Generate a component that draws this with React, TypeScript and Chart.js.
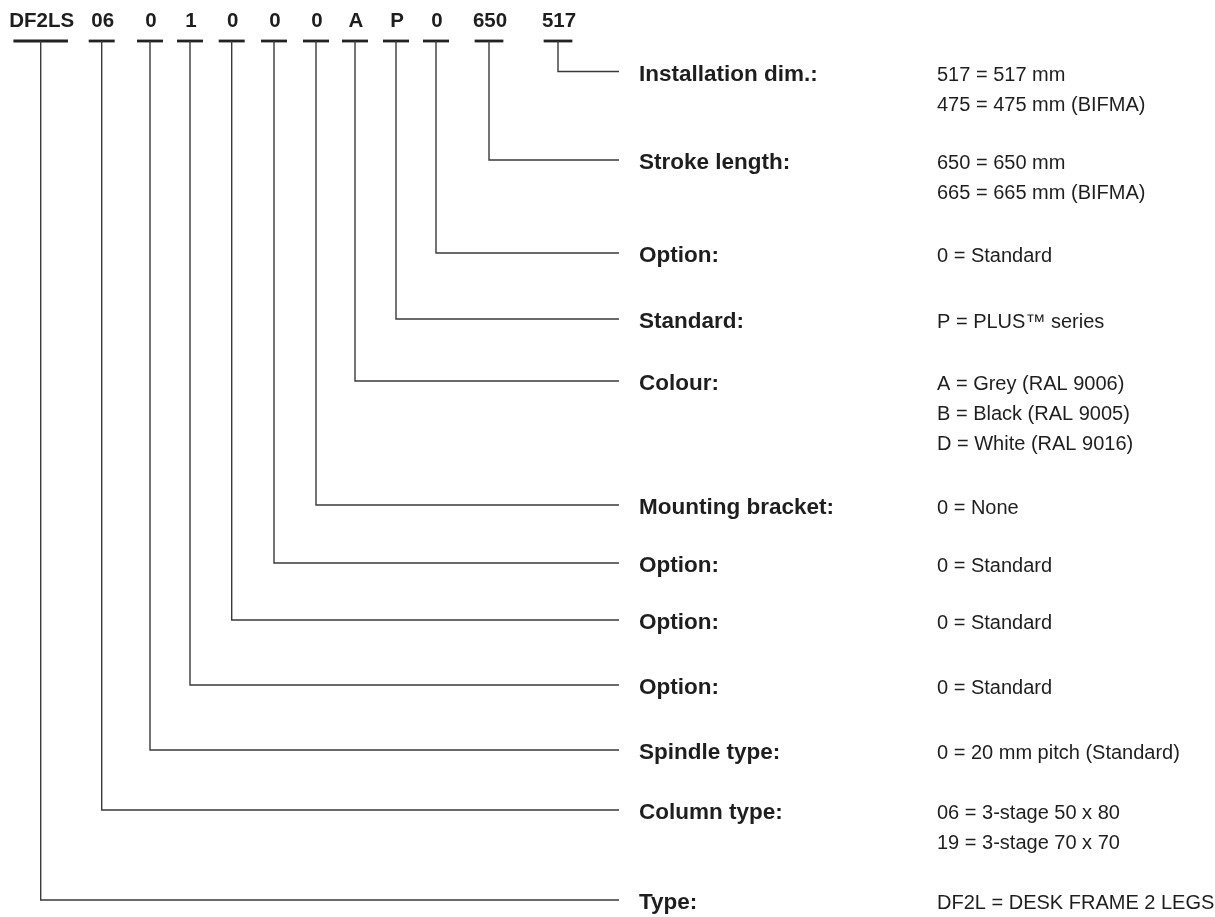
import React, { useEffect, useRef } from "react";
import { Chart, registerables } from "chart.js";

Chart.register(...registerables);

// Ordering key: code segments (left to right) and the slot each one sits in (x-axis units)
const codes = ["DF2LS", "06", "0", "1", "0", "0", "0", "A", "P", "0", "650", "517"];
const codeSlots = [40.7, 101.7, 150, 190, 231.7, 274, 316, 355, 396, 436, 489, 558];

// Field explained by each code segment (same order as codes)
const fieldLabels = [
  "Type:",
  "Column type:",
  "Spindle type:",
  "Option:",
  "Option:",
  "Option:",
  "Mounting bracket:",
  "Colour:",
  "Standard:",
  "Option:",
  "Stroke length:",
  "Installation dim.:",
];
const fieldValues = [
  ["DF2L = DESK FRAME 2 LEGS"],
  ["06 = 3-stage 50 x 80", "19 = 3-stage 70 x 70"],
  ["0 = 20 mm pitch (Standard)"],
  ["0 = Standard"],
  ["0 = Standard"],
  ["0 = Standard"],
  ["0 = None"],
  ["A = Grey (RAL 9006)", "B = Black (RAL 9005)", "D = White (RAL 9016)"],
  ["P = PLUS\u2122 series"],
  ["0 = Standard"],
  ["650 = 650 mm", "665 = 665 mm (BIFMA)"],
  ["517 = 517 mm", "475 = 475 mm (BIFMA)"],
];
// Row (y-axis units) where each field's leader line ends
const fieldRows = [900, 810, 750, 685, 620, 563, 505, 381, 319, 253, 160, 71.5];

const W = 1215;
const H = 917;
const CODE_Y = 27;
const UNDERLINE_Y = 41;
const LEADER_END = 619;
const LABEL_X = 639;
const VALUE_X = 937;
const LINE_STEP = 30;

const CODE_FONT = "bold 20.5px 'Liberation Sans', Arial, sans-serif";
const LABEL_FONT = "bold 22.5px 'Liberation Sans', Arial, sans-serif";
const VALUE_FONT = "20px 'Liberation Sans', Arial, sans-serif";
const TEXT_COLOR = "#1e1e1e";
const LINE_COLOR = "#3a3a3a";

export default function App() {
  const ref = useRef<HTMLCanvasElement | null>(null);

  useEffect(() => {
    document.body.style.margin = "0";
    const canvas = ref.current;
    if (!canvas) return;

    const mctx = document.createElement("canvas").getContext("2d")!;
    mctx.font = CODE_FONT;
    const underlineHalf = codes.map((c) => Math.max(26, mctx.measureText(c).width * 0.84) / 2);

    const leaders = codes.map((_, i) => ({
      label: "leader-" + i,
      data: [
        { x: codeSlots[i], y: UNDERLINE_Y },
        { x: codeSlots[i], y: fieldRows[i] },
        { x: LEADER_END, y: fieldRows[i] },
      ],
      borderColor: LINE_COLOR,
      borderWidth: 1.4,
      pointRadius: 0,
      fill: false,
      tension: 0,
      showLine: true,
    }));

    const underlines = codes.map((_, i) => ({
      label: "underline-" + i,
      data: [
        { x: codeSlots[i] - underlineHalf[i], y: UNDERLINE_Y },
        { x: codeSlots[i] + underlineHalf[i], y: UNDERLINE_Y },
      ],
      borderColor: "#222222",
      borderWidth: 2.8,
      pointRadius: 0,
      fill: false,
      tension: 0,
      showLine: true,
    }));

    const textPlugin = {
      id: "keyText",
      afterDatasetsDraw(chart: any) {
        const { ctx, scales } = chart;
        const px = (v: number) => scales.x.getPixelForValue(v);
        const py = (v: number) => scales.y.getPixelForValue(v);
        ctx.save();
        ctx.fillStyle = TEXT_COLOR;
        ctx.textBaseline = "alphabetic";

        ctx.font = CODE_FONT;
        ctx.textAlign = "center";
        codes.forEach((c, i) => {
          ctx.fillText(c, px(codeSlots[i]) + 1, py(CODE_Y));
        });

        ctx.textAlign = "left";
        fieldLabels.forEach((lab, i) => {
          ctx.font = LABEL_FONT;
          ctx.fillText(lab, px(LABEL_X), py(fieldRows[i] + 9));
          ctx.font = VALUE_FONT;
          fieldValues[i].forEach((v, j) => {
            ctx.fillText(v, px(VALUE_X), py(fieldRows[i] + 9 + j * LINE_STEP));
          });
        });
        ctx.restore();
      },
    };

    const chart = new Chart(canvas, {
      type: "line",
      data: { datasets: [...leaders, ...underlines] as any },
      options: {
        animation: false,
        responsive: false,
        maintainAspectRatio: false,
        layout: { padding: 0 },
        plugins: { legend: { display: false }, tooltip: { enabled: false }, title: { display: false } },
        events: [],
        scales: {
          x: { type: "linear", min: 0, max: W, display: false },
          y: { type: "linear", min: 0, max: H, reverse: true, display: false },
        },
      },
      plugins: [textPlugin],
    });

    return () => chart.destroy();
  }, []);

  return (
    <div style={{ width: W, height: H, background: "#ffffff", overflow: "hidden" }}>
      <canvas ref={ref} width={W} height={H} style={{ display: "block", width: W, height: H }} />
    </div>
  );
}
